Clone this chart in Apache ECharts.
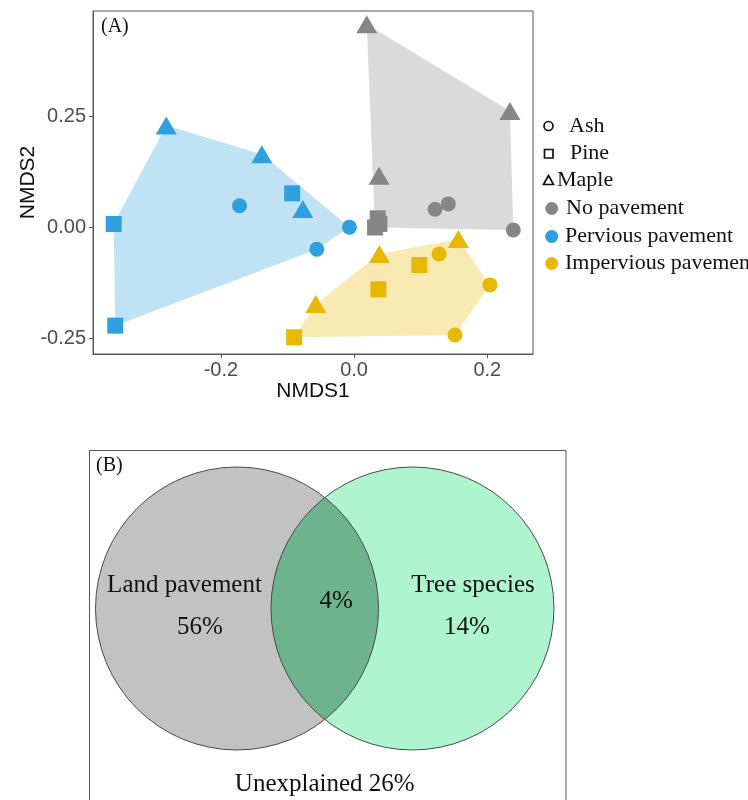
<!DOCTYPE html>
<html>
<head>
<meta charset="utf-8">
<script src="https://cdn.jsdelivr.net/npm/echarts@6/dist/echarts.min.js"></script>
<style>
  html, body { margin: 0; padding: 0; background: #fff; }
  #main { width: 748px; height: 800px; }
</style>
</head>
<body>
<div id="main"></div>
<script>
// NMDS scores, [NMDS1, NMDS2, tree species]
var noPavement = [
  [0.019, 0.457, 'Maple'], [0.234, 0.262, 'Maple'], [0.0375, 0.1165, 'Maple'],
  [0.0355, 0.0206, 'Pine'], [0.038, 0.008, 'Pine'], [0.0315, 0.0, 'Pine'],
  [0.1215, 0.041, 'Ash'], [0.1415, 0.053, 'Ash'], [0.239, -0.0056, 'Ash']
];
var perviousPavement = [
  [-0.282, 0.229, 'Maple'], [-0.1385, 0.1644, 'Maple'], [-0.077, 0.0416, 'Maple'],
  [-0.093, 0.0768, 'Pine'], [-0.361, 0.0079, 'Pine'], [-0.3586, -0.2206, 'Pine'],
  [-0.172, 0.049, 'Ash'], [-0.007, 0.0004, 'Ash'], [-0.056, -0.049, 'Ash']
];
var imperviousPavement = [
  [0.1565, -0.0258, 'Maple'], [0.038, -0.0595, 'Maple'], [-0.0575, -0.1719, 'Maple'],
  [0.1275, -0.0596, 'Ash'], [0.204, -0.129, 'Ash'], [0.1515, -0.2416, 'Ash'],
  [0.098, -0.0843, 'Pine'], [0.0365, -0.139, 'Pine'], [-0.09, -0.2468, 'Pine']
];
var groupNames = ['No pavement', 'Pervious pavement', 'Impervious pavement'];
var speciesNames = ['Ash', 'Pine', 'Maple'];

var xTicks = [-0.2, 0, 0.2];
var xTickLabels = ['-0.2', '0.0', '0.2'];
var yTicks = [-0.25, 0, 0.25];
var yTickLabels = ['-0.25', '0.00', '0.25'];

// variation partitioning (%)
var vennSets = ['Land pavement', 'Tree species'];
var vennOnly = [56, 14];
var vennShared = 4;
var vennUnexplained = 26;

var groupColors = ['#868686', '#2E9FDF', '#E7B800'];
var shapeOf = { Ash: 'circle', Pine: 'rect', Maple: 'triangle' };
var sizeOf = { Ash: 15, Pine: 16, Maple: [21, 18] };
var serif = 'Liberation Serif, Times New Roman, serif';
var sans = 'Liberation Sans, Arial, sans-serif';

function convexHull(pts) {
  var p = pts.map(function (d) { return [d[0], d[1]]; }).sort(function (a, b) {
    return a[0] - b[0] || a[1] - b[1];
  });
  function cross(o, a, b) { return (a[0] - o[0]) * (b[1] - o[1]) - (a[1] - o[1]) * (b[0] - o[0]); }
  var lower = [], upper = [];
  p.forEach(function (q) {
    while (lower.length >= 2 && cross(lower[lower.length - 2], lower[lower.length - 1], q) <= 0) lower.pop();
    lower.push(q);
  });
  p.slice().reverse().forEach(function (q) {
    while (upper.length >= 2 && cross(upper[upper.length - 2], upper[upper.length - 1], q) <= 0) upper.pop();
    upper.push(q);
  });
  lower.pop(); upper.pop();
  return lower.concat(upper);
}

function tickLabel(ticks, labels) {
  return function (v) {
    for (var i = 0; i < ticks.length; i++) {
      if (Math.abs(ticks[i] - v) < 1e-9) return labels[i];
    }
    return '';
  };
}

var groups = [noPavement, perviousPavement, imperviousPavement];
var series = [];

groups.forEach(function (g, i) {
  var hull = convexHull(g);
  series.push({
    type: 'custom',
    xAxisIndex: 0, yAxisIndex: 0,
    z: 1,
    silent: true,
    data: [hull[0]],
    renderItem: function (params, api) {
      return {
        type: 'polygon',
        shape: { points: hull.map(function (p) { return api.coord(p); }) },
        style: { fill: groupColors[i], opacity: 0.3 }
      };
    }
  });
});

groups.forEach(function (g, i) {
  series.push({
    name: groupNames[i],
    type: 'scatter',
    xAxisIndex: 0, yAxisIndex: 0,
    z: 3,
    data: g,
    symbol: function (v) { return shapeOf[v[2]]; },
    symbolSize: function (v) { return sizeOf[v[2]]; },
    itemStyle: { color: groupColors[i], opacity: 1 }
  });
});

// Venn diagram in panel B (unit circles)
var vennCenters = [[-0.62, 0], [0.62, 0]];
var vennR = 1;
series.push({
  type: 'custom',
  xAxisIndex: 1, yAxisIndex: 1,
  silent: true,
  data: [[0, 0]],
  renderItem: function (params, api) {
    var r = api.size([vennR, vennR])[0];
    var c0 = api.coord(vennCenters[0]);
    var c1 = api.coord(vennCenters[1]);
    // lens of the two circles
    var d = c1[0] - c0[0];
    var h = Math.sqrt(r * r - (d / 2) * (d / 2));
    var a0 = Math.atan2(h, d / 2), lens = [];
    var n = 60, k, t;
    for (k = 0; k <= n; k++) {
      t = -a0 + 2 * a0 * k / n;
      lens.push([c0[0] + r * Math.cos(t), c0[1] + r * Math.sin(t)]);
    }
    for (k = 0; k <= n; k++) {
      t = Math.PI - a0 + 2 * a0 * k / n;
      lens.push([c1[0] + r * Math.cos(t), c1[1] + r * Math.sin(t)]);
    }
    function txt(str, pos) {
      var p = api.coord(pos);
      return {
        type: 'text', x: p[0], y: p[1],
        style: { text: str, fill: '#111', font: '25px ' + serif, align: 'center', verticalAlign: 'middle' }
      };
    }
    return {
      type: 'group',
      children: [
        { type: 'circle', shape: { cx: c0[0], cy: c0[1], r: r }, style: { fill: '#c2c2c2' } },
        { type: 'circle', shape: { cx: c1[0], cy: c1[1], r: r }, style: { fill: '#aef4cf' } },
        { type: 'polygon', shape: { points: lens }, style: { fill: '#6db38c' } },
        { type: 'circle', shape: { cx: c0[0], cy: c0[1], r: r }, style: { fill: 'none', stroke: '#4a4a4a', lineWidth: 1 } },
        { type: 'circle', shape: { cx: c1[0], cy: c1[1], r: r }, style: { fill: 'none', stroke: '#4a4a4a', lineWidth: 1 } },
        txt(vennSets[0], [-0.991, 0.16]),
        txt(vennOnly[0] + '%', [-0.882, -0.133]),
        txt(vennShared + '%', [0.08, 0.048]),
        txt(vennSets[1], [1.048, 0.16]),
        txt(vennOnly[1] + '%', [1.005, -0.133]),
        txt('Unexplained ' + vennUnexplained + '%', [0, -1.245])
      ]
    };
  }
});

// legend drawn by hand (shape keys + colour keys)
var legendItems = [];
var ly = [126, 153.5, 180.5, 208.5, 236.5, 263.5];
legendItems.push({ type: 'circle', shape: { cx: 548.5, cy: ly[0], r: 4.5 }, style: { fill: 'none', stroke: '#111', lineWidth: 1.7 } });
legendItems.push({ type: 'rect', shape: { x: 544.5, y: ly[1] - 4, width: 8.5, height: 8.5 }, style: { fill: 'none', stroke: '#111', lineWidth: 1.7 } });
legendItems.push({ type: 'polygon', shape: { points: [[548.5, ly[2] - 5], [553.5, ly[2] + 4], [543.5, ly[2] + 4]] }, style: { fill: 'none', stroke: '#111', lineWidth: 1.7 } });
var textX = [569, 570, 557, 566, 565, 565];
speciesNames.concat(groupNames).forEach(function (name, i) {
  if (i >= 3) {
    legendItems.push({ type: 'circle', shape: { cx: 551.7, cy: ly[i], r: 6.5 }, style: { fill: groupColors[i - 3] } });
  }
  legendItems.push({
    type: 'text', x: textX[i], y: ly[i],
    style: { text: name, fill: '#111', font: '22px ' + serif, verticalAlign: 'middle' }
  });
});
legendItems.push({
  type: 'rect', shape: { x: 89.5, y: 450.5, width: 476.5, height: 400 },
  style: { fill: 'none', stroke: '#555', lineWidth: 1 }, z: 10
});

var chart = echarts.init(document.getElementById('main'));
chart.setOption({
  animation: false,
  backgroundColor: '#fff',
  title: [
    { text: '(A)', left: 101, top: 17, padding: 0, textStyle: { fontFamily: serif, fontSize: 20, fontWeight: 'normal', color: '#111' } },
    { text: '(B)', left: 96, top: 456, padding: 0, textStyle: { fontFamily: serif, fontSize: 20, fontWeight: 'normal', color: '#111' } }
  ],
  grid: [
    { left: 93, top: 11, width: 440, height: 343, show: true, borderColor: '#555', borderWidth: 1, outerBoundsMode: 'none', containLabel: false },
    { left: 89.5, top: 450, width: 476.5, height: 360, show: false, outerBoundsMode: 'none', containLabel: false }
  ],
  xAxis: [
    {
      type: 'value', gridIndex: 0, min: -0.392, max: 0.2686,
      name: 'NMDS1', nameLocation: 'middle', nameGap: 24,
      nameTextStyle: { fontFamily: sans, fontSize: 21, color: '#111' },
      axisLine: { show: true, onZero: false, lineStyle: { color: '#555' } },
      axisTick: { show: true, length: 4, lineStyle: { color: '#555' }, customValues: xTicks },
      axisLabel: { margin: 6, fontFamily: sans, fontSize: 20, color: '#4d4d4d', customValues: xTicks, formatter: tickLabel(xTicks, xTickLabels) },
      splitLine: { show: false }
    },
    { type: 'value', gridIndex: 1, min: -1.6625, max: 1.705, show: false }
  ],
  yAxis: [
    {
      type: 'value', gridIndex: 0, min: -0.2843, max: 0.4865,
      name: 'NMDS2', nameLocation: 'middle', nameGap: 54, nameMoveOverlap: false,
      nameTextStyle: { fontFamily: sans, fontSize: 21, color: '#111' },
      axisLine: { show: true, onZero: false, lineStyle: { color: '#555' } },
      axisTick: { show: true, length: 4, lineStyle: { color: '#555' }, customValues: yTicks },
      axisLabel: { margin: 7, fontFamily: sans, fontSize: 20, color: '#4d4d4d', customValues: yTicks, formatter: tickLabel(yTicks, yTickLabels) },
      splitLine: { show: false }
    },
    { type: 'value', gridIndex: 1, min: -1.424, max: 1.12, show: false }
  ],
  graphic: legendItems,
  series: series
});
</script>
</body>
</html>
